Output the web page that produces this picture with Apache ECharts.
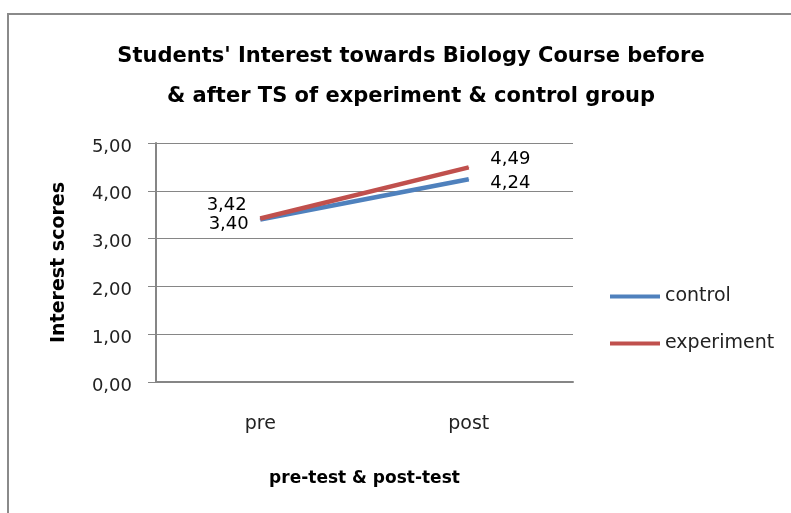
<!DOCTYPE html>
<html><head><meta charset="utf-8">
<script src="https://cdn.jsdelivr.net/npm/echarts@6/dist/echarts.min.js"></script>
<style>
html,body{margin:0;padding:0;background:#fff;}
#frame{position:absolute;left:7px;top:13px;width:800px;height:520px;border-left:2px solid #8a8a8a;border-top:2px solid #8a8a8a;}
#c{position:absolute;left:0;top:0;width:791px;height:513px;}
</style></head>
<body>
<div id="frame"></div>
<div id="c"></div>
<script>
const categories = ['pre', 'post'];
const controlValues = [3.40, 4.24];
const experimentValues = [3.42, 4.49];
const yTicks = [0, 1, 2, 3, 4, 5];
const FONT = 'DejaVu Sans';
const fmt = v => v.toFixed(2).replace('.', ',');

function labeled(values, cfg) {
  return values.map((v, i) => ({ value: v, label: cfg[i] }));
}

const chart = echarts.init(document.getElementById('c'));
chart.setOption({
  backgroundColor: 'transparent',
  animation: false,
  title: {
    text: "Students' Interest towards Biology Course before\n& after TS of experiment & control group",
    left: 411, top: 37, textAlign: 'center', padding: 0,
    textStyle: { fontFamily: FONT, fontWeight: 'bold', fontSize: 21, lineHeight: 40, color: '#000' }
  },
  grid: { left: 156, right: 218, top: 143, bottom: 131 },
  legend: {
    orient: 'vertical', left: 610, top: 287, padding: 0, itemWidth: 50, itemHeight: 4, itemGap: 28,
    icon: 'rect',
    textStyle: { fontFamily: FONT, fontSize: 19, color: '#222' },
    data: ['control', 'experiment']
  },
  xAxis: {
    type: 'category', data: categories, boundaryGap: true,
    name: 'pre-test & post-test', nameLocation: 'middle', nameGap: 88,
    nameTextStyle: { fontFamily: FONT, fontWeight: 'bold', fontSize: 17, color: '#000' },
    axisLine: { lineStyle: { color: '#868686', width: 2 } },
    axisTick: { show: false },
    axisLabel: { fontFamily: FONT, fontSize: 19, color: '#222', margin: 33 }
  },
  yAxis: {
    type: 'value', min: yTicks[0], max: yTicks[yTicks.length - 1], interval: 1,
    name: 'Interest scores', nameLocation: 'middle', nameGap: 87, nameRotate: 90,
    nameTextStyle: { fontFamily: FONT, fontWeight: 'bold', fontSize: 19, color: '#000' },
    axisLine: { show: true, lineStyle: { color: '#868686', width: 2 } },
    axisTick: { show: true, length: 8, lineStyle: { color: '#868686' } },
    splitLine: { lineStyle: { color: '#868686', width: 1 } },
    axisLabel: {
      fontFamily: FONT, fontSize: 18, color: '#222', margin: 24,
      formatter: v => '{a|' + fmt(v) + '}',
      rich: { a: { fontFamily: FONT, fontSize: 18, color: '#222', padding: [8, 0, 0, 0] } }
    }
  },
  series: [
    {
      name: 'control', type: 'line', symbol: 'circle', symbolSize: 1, showSymbol: true,
      color: '#4F81BD',
      lineStyle: { width: 4.5, color: '#4F81BD' },
      data: labeled(controlValues, [
        { show: true, position: 'left', offset: [-6, 5] },
        { show: true, position: 'right', offset: [16, 4] }
      ]),
      label: { show: true, fontFamily: FONT, fontSize: 18, color: '#000', formatter: p => fmt(p.value) },
      z: 2
    },
    {
      name: 'experiment', type: 'line', symbol: 'circle', symbolSize: 1, showSymbol: true,
      color: '#C0504D',
      lineStyle: { width: 4.5, color: '#C0504D' },
      data: labeled(experimentValues, [
        { show: true, position: 'left', offset: [-8, -13] },
        { show: true, position: 'right', offset: [16, -8] }
      ]),
      label: { show: true, fontFamily: FONT, fontSize: 18, color: '#000', formatter: p => fmt(p.value) },
      z: 3
    }
  ]
});
</script>
</body></html>
